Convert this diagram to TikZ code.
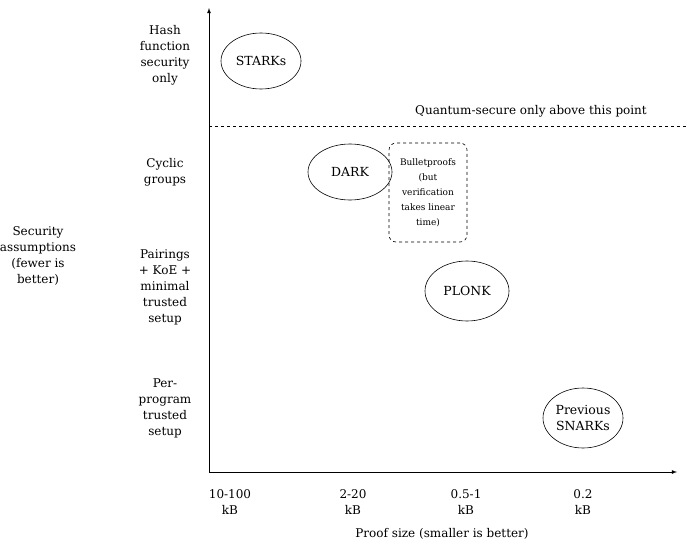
\documentclass[tikz,border=0pt]{standalone}
\usepackage{fontspec}
\usetikzlibrary{shapes.geometric}
\setmainfont{DejaVu Serif}
\begin{document}
\begin{tikzpicture}[x=1pt,y=-1pt,
  lbl/.style={align=center,font=\fontsize{12}{16}\selectfont,inner sep=0},
  ell/.style={draw,semithick,ellipse,minimum width=80,minimum height=56,inner sep=0,align=center,font=\fontsize{12.5}{15.5}\selectfont},
  >=latex]
\useasboundingbox (0,0) rectangle (687,548);
\coordinate (o) at (209,472);
\coordinate (top) at (209,8);
\coordinate (right) at (677,472);
\draw[->,thick] (o) -- (top);
\draw[->,thick] (o) -- (right);
\coordinate (d1) at (209,126);
\coordinate (d2) at (687,126);
\draw[dashed,semithick] (d1) -- (d2);
\node[lbl] (q) at (531,111) {Quantum-secure only above this point};
\node[ell] (starks) at (261,61) {STARKs};
\node[ell,minimum width=84] (dark) at (350,172) {DARK};
\node[ell,minimum width=84,minimum height=60] (plonk) at (467,291) {PLONK};
\node[ell,minimum height=60] (snarks) at (583,418) {Previous\\SNARKs};
\node[draw,dashed,semithick,rounded corners=7,minimum width=78,minimum height=99,align=center,inner sep=0,font=\fontsize{9}{15}\selectfont] (bp) at (428,192.5) {Bulletproofs\\(but\\verification\\takes linear\\time)};
\node[lbl] (l1) at (165,55) {Hash\\function\\security\\only};
\node[lbl] (l2) at (165,172) {Cyclic\\groups};
\node[lbl] (l3) at (165,287) {Pairings\\+ KoE +\\minimal\\trusted\\setup};
\node[lbl] (l4) at (165,408) {Per-\\program\\trusted\\setup};
\node[lbl] (ya) at (38,256) {Security\\assumptions\\(fewer is\\better)};
\node[lbl] (x1) at (230,502) {10-100\\kB};
\node[lbl] (x2) at (353,502) {2-20\\kB};
\node[lbl] (x3) at (466,502) {0.5-1\\kB};
\node[lbl] (x4) at (583,502) {0.2\\kB};
\node[lbl] (xa) at (442,534) {Proof size (smaller is better)};
\end{tikzpicture}
\end{document}
